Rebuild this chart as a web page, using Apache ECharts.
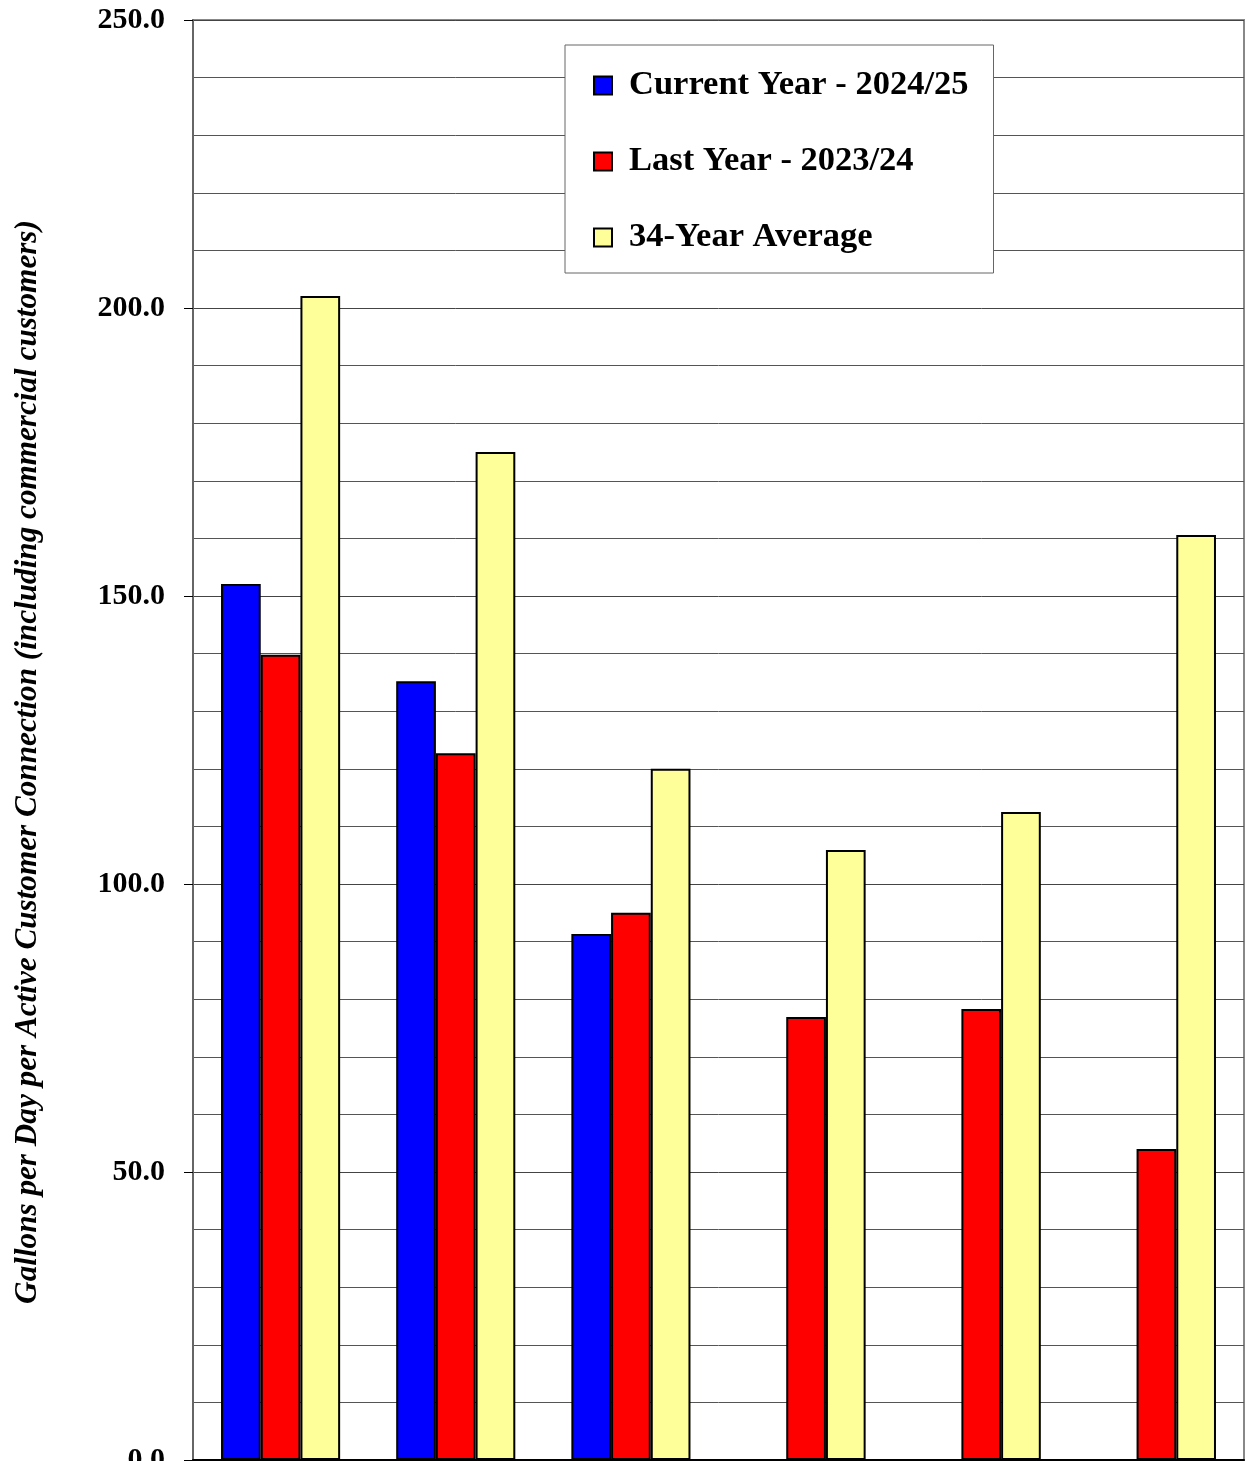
<!DOCTYPE html>
<html>
<head>
<meta charset="utf-8">
<script src="https://cdn.jsdelivr.net/npm/echarts@6/dist/echarts.min.js"></script>
<style>
  html, body { margin: 0; padding: 0; background: #fff; }
  #chart { width: 1247px; height: 1461px; }
</style>
</head>
<body>
<div id="chart"></div>
<script>
// Monthly periods (axis labels sit below the visible area)
const categories = ['P1', 'P2', 'P3', 'P4', 'P5', 'P6'];

// Gallons per day per active connection
const currentYear = [152.1, 135.2, 91.3, null, null, null];
const lastYear = [139.8, 122.7, 95.0, 76.9, 78.3, 54.0];
const longTermAverage = [202.1, 175.0, 120.0, 105.9, 112.5, 160.6];

const seriesNames = ['Current Year - 2024/25', 'Last Year - 2023/24', '34-Year Average'];
const seriesColors = ['#0000FF', '#FF0000', '#FFFF99'];

const yMin = 0, yMax = 250, yStep = 50;

const serif = '"Liberation Serif", "Times New Roman", serif';

const chart = echarts.init(document.getElementById('chart'), null, { renderer: 'canvas' });

function barSeries(name, data, color) {
  return {
    name: name,
    type: 'bar',
    data: data,
    barGap: '0%',
    barCategoryGap: '32%',
    itemStyle: { color: color, borderColor: '#000', borderWidth: 2 },
    emphasis: { disabled: true }
  };
}

chart.setOption({
  animation: false,
  backgroundColor: '#fff',
  grid: {
    left: 193, right: 3, top: 20, bottom: 1,
    containLabel: false,
    outerBoundsMode: 'none',
    show: true, borderColor: '#888', borderWidth: 2, backgroundColor: 'transparent'
  },
  legend: {
    orient: 'vertical',
    left: 565, top: 45,
    padding: [23, 25, 18, 28],
    itemGap: 41,
    itemWidth: 18, itemHeight: 18,
    icon: 'rect',
    backgroundColor: '#fff',
    borderColor: '#666',
    borderWidth: 1,
    selectedMode: false,
    textStyle: {
      fontFamily: serif, fontWeight: 'bold', fontSize: 34.5, color: '#000',
      lineHeight: 34, padding: [0, 0, 0, 12]
    },
    data: seriesNames
  },
  xAxis: {
    type: 'category',
    data: categories,
    axisLine: { show: true, lineStyle: { color: '#000', width: 2 } },
    axisTick: { show: false },
    axisLabel: { show: false },
    splitLine: { show: false }
  },
  yAxis: {
    type: 'value',
    min: yMin, max: yMax, interval: yStep,
    name: 'Gallons per Day per Active Customer Connection (including commercial customers)',
    nameLocation: 'middle',
    nameGap: 150,
    nameTextStyle: {
      fontFamily: serif, fontWeight: 'bold', fontStyle: 'italic', fontSize: 31.2, color: '#000',
      padding: [0, 44, 0, 0]
    },
    axisLine: { show: true, lineStyle: { color: '#666', width: 2 } },
    axisTick: { show: true, inside: false, length: 9, lineStyle: { color: '#000', width: 1 } },
    axisLabel: {
      margin: 28,
      fontFamily: serif, fontWeight: 'bold', fontSize: 30, color: '#000',
      formatter: v => v.toFixed(1)
    },
    splitLine: { show: true, lineStyle: { color: '#444', width: 1 } },
    minorTick: { show: false, splitNumber: 5 },
    minorSplitLine: { show: true, lineStyle: { color: '#555', width: 1 } }
  },
  series: [
    barSeries(seriesNames[0], currentYear, seriesColors[0]),
    barSeries(seriesNames[1], lastYear, seriesColors[1]),
    barSeries(seriesNames[2], longTermAverage, seriesColors[2])
  ]
});
</script>
</body>
</html>
